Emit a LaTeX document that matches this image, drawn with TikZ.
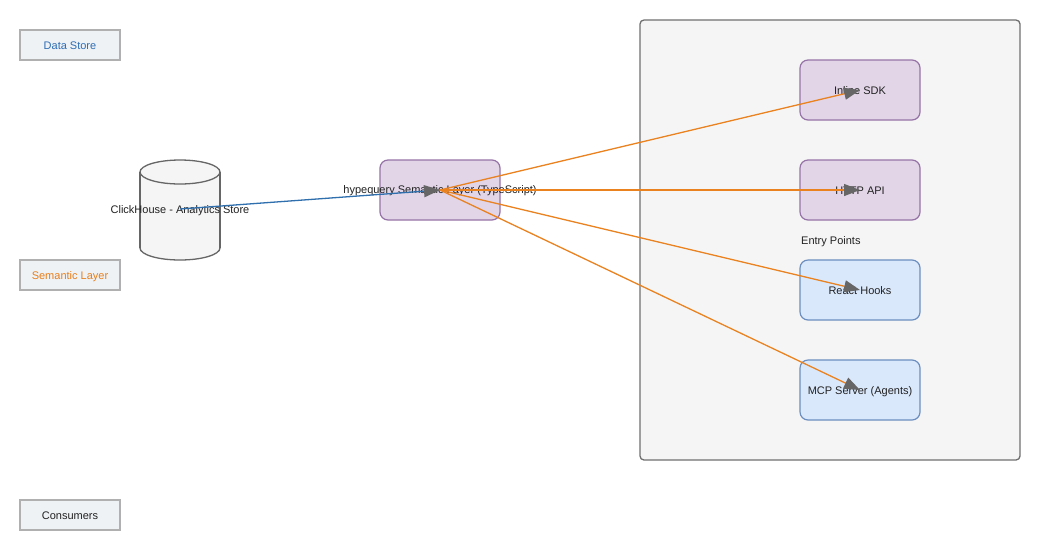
\documentclass[tikz,border=0pt]{standalone}
\usepackage{fontspec}
\setmainfont{Liberation Sans}
\usetikzlibrary{arrows.meta}
\definecolor{legfill}{HTML}{EFF2F5}
\definecolor{legdraw}{HTML}{B0B0B0}
\definecolor{dsblue}{HTML}{2E6DB4}
\definecolor{slorange}{HTML}{E87E1A}
\definecolor{txt}{HTML}{222222}
\definecolor{purfill}{HTML}{E1D5E7}
\definecolor{purdraw}{HTML}{9673A6}
\definecolor{bluefill}{HTML}{DAE8FC}
\definecolor{bluedraw}{HTML}{6C8EBF}
\definecolor{contfill}{HTML}{F5F5F5}
\definecolor{contdraw}{HTML}{707070}
\definecolor{cylfill}{HTML}{F5F5F5}
\definecolor{cyldraw}{HTML}{666666}
\definecolor{edgeorange}{HTML}{E9821F}
\definecolor{edgeblue}{HTML}{2F6FAE}
\definecolor{tipgray}{HTML}{666666}
\tikzset{
  fnt/.style={font=\fontsize{11}{13}\selectfont, text height=8.5pt, text depth=0pt},
  lbl/.style={fnt, text=txt, inner sep=0pt},
  legend/.style={draw=legdraw, fill=legfill, line width=1.3pt, minimum width=100pt, minimum height=30pt, inner sep=0pt, fnt},
  purbox/.style={draw=purdraw, fill=purfill, line width=1.2pt, rounded corners=8pt, minimum width=120pt, minimum height=60pt, inner sep=0pt, fnt, text=txt},
  bluebox/.style={draw=bluedraw, fill=bluefill, line width=1.2pt, rounded corners=8pt, minimum width=120pt, minimum height=60pt, inner sep=0pt, fnt, text=txt},
  oedge/.style={draw=edgeorange, line width=1.3pt, -{Triangle[length=16pt,width=12pt,color=tipgray]}},
  bedge/.style={draw=edgeblue, line width=1.3pt, -{Triangle[length=16pt,width=12pt,color=tipgray]}},
}
\begin{document}
\begin{tikzpicture}[x=1pt,y=-1pt]
\useasboundingbox (0,0) rectangle (1040,550);
\fill[white] (0,0) rectangle (1040,550);
% legend
\node[legend, text=dsblue] (lds) at (70,45) {Data Store};
\node[legend, text=slorange] (lsl) at (70,275) {Semantic Layer};
\node[legend, text=txt] (lco) at (70,515) {Consumers};
% container
\draw[fill=contfill, draw=contdraw, line width=1.3pt, rounded corners=4pt] (640,20) rectangle (1020,460);
% cylinder
\filldraw[fill=cylfill, draw=cyldraw, line width=1.3pt] (180,248) ellipse [x radius=40, y radius=12];
\fill[cylfill] (140,172) rectangle (220,248);
\draw[cyldraw, line width=1.3pt] (140,172) -- (140,248) (220,172) -- (220,248);
\filldraw[fill=cylfill, draw=cyldraw, line width=1.3pt] (180,172) ellipse [x radius=40, y radius=12];
\node[lbl] (ch) at (180,209) {ClickHouse - Analytics Store};
% semantic layer
\node[purbox] (sem) at (440,190) {};
\node[lbl] (semlbl) at (440,189) {hypequery Semantic Layer (TypeScript)};
% entry points
\node[purbox] (sdk) at (860,90) {Inline SDK};
\node[purbox] (http) at (860,190) {HTTP API};
\node[lbl, anchor=west] (ep) at (801,240) {Entry Points};
\node[bluebox] (react) at (860,290) {React Hooks};
\node[bluebox] (mcp) at (860,390) {MCP Server (Agents)};
% edges
\draw[bedge] (ch.center) -- (sem.center);
\draw[oedge] (sem.center) -- (sdk.center);
\draw[oedge] (sem.center) -- (http.center);
\draw[oedge] (sem.center) -- (react.center);
\draw[oedge] (sem.center) -- (mcp.center);
\end{tikzpicture}
\end{document}
